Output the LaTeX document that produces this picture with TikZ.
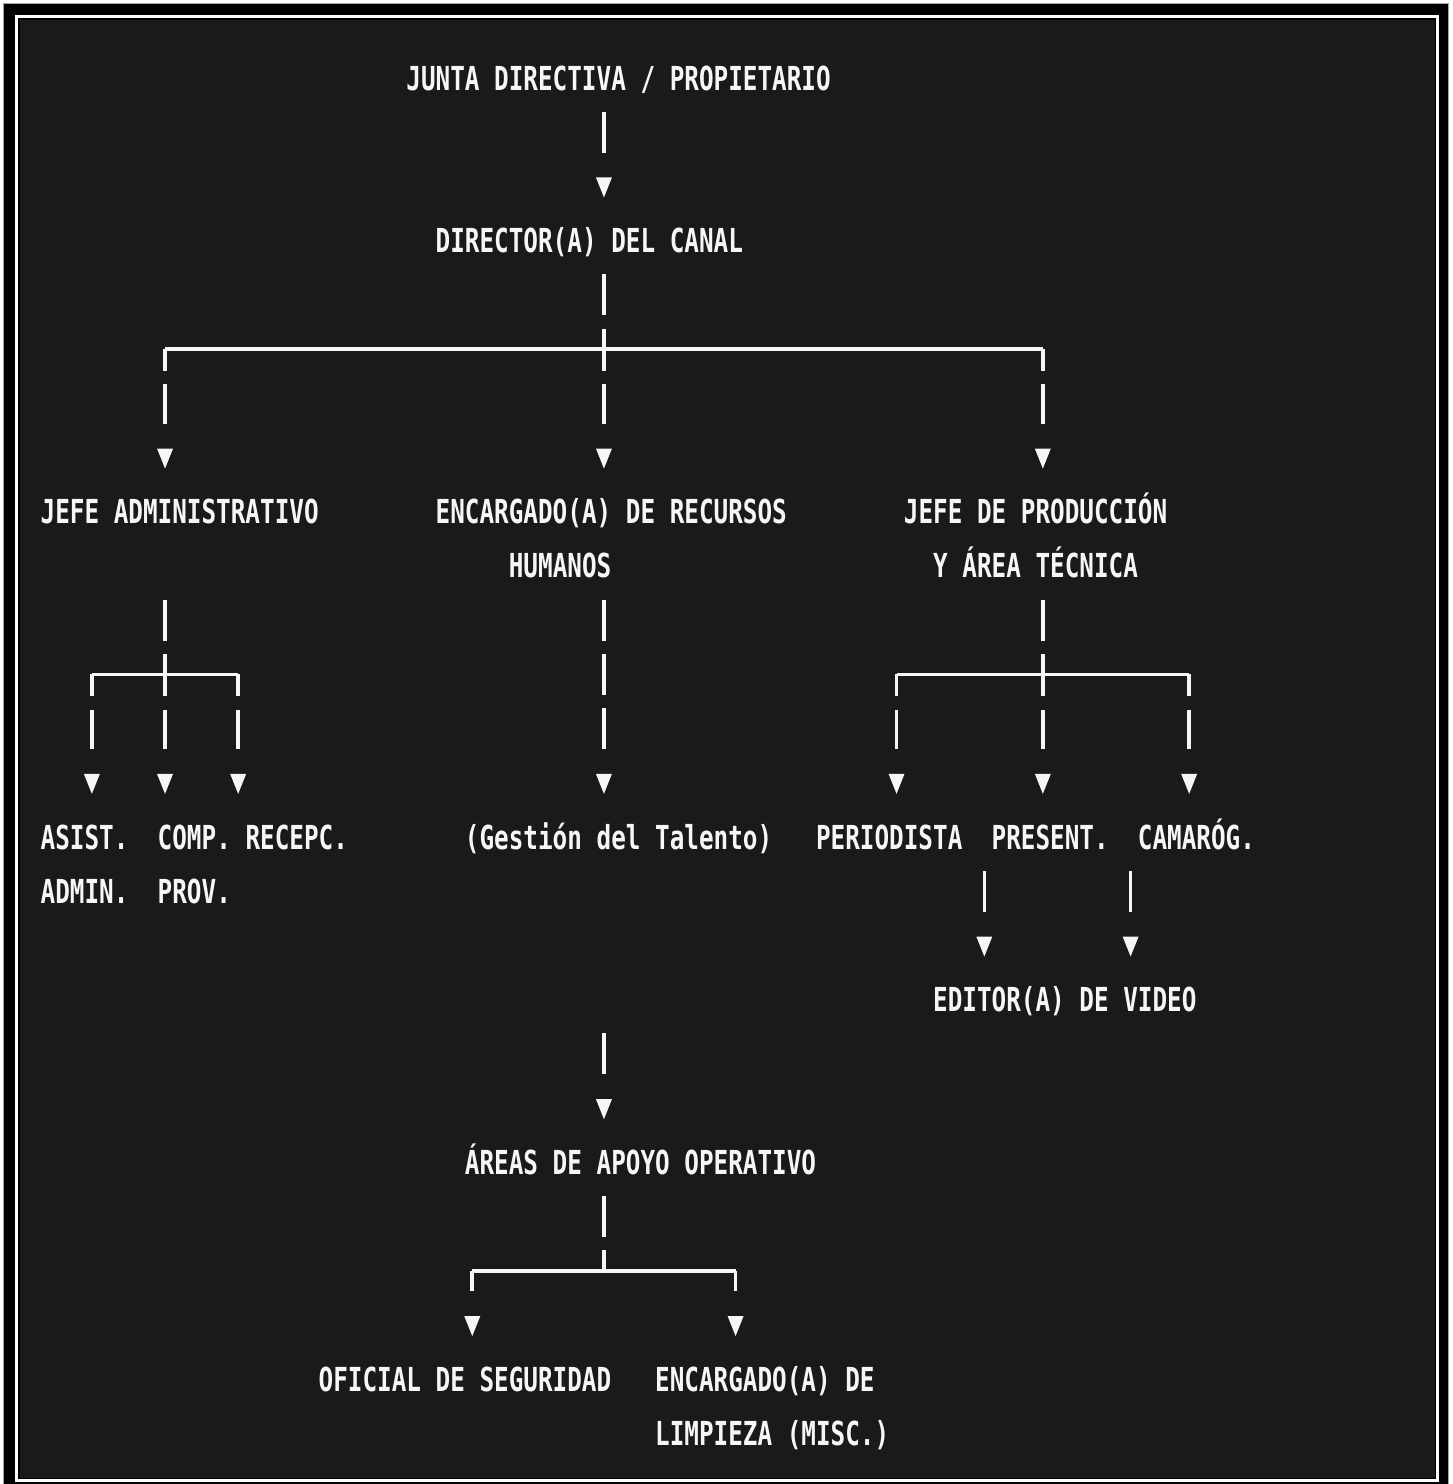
\documentclass[tikz,border=0pt]{standalone}
\usepackage{fontspec}
\usepackage{graphicx}
\usetikzlibrary{decorations.markings}
\newfontfamily\monofam{DejaVu Sans Mono}
\definecolor{bgc}{HTML}{1A1A1A}
\definecolor{fg}{HTML}{F6F6F6}
\newlength\cw
\setlength\cw{14.63pt}
% one text row of the ASCII chart: exact row box of 54.22pt
\newcommand\rowline[1]{\raisebox{0pt}[39.11pt][15.11pt]{\scalebox{1}[1.36]{#1}}}
\newcommand\tworows[2]{\vbox{\offinterlineskip\hbox{\rowline{#1}}\hbox{#2}}}
\newcommand\indentc[1]{\hspace*{#1\cw}}
\tikzset{
  txt/.style={anchor=north west, inner sep=0pt, outer sep=0pt, text=fg,
    font=\monofam\bfseries\fontsize{24.3pt}{54.22pt}\selectfont},
  wire/.style={draw=fg, line width=3.6pt},
  tipmark/.style={postaction={decorate, decoration={markings,
    mark=at position 1 with {\fill[fg, shorten >=0pt, shorten <=0pt]
      (-16.11pt,0pt) -- (-36.11pt,8pt) -- (-36.11pt,-8pt) -- cycle;}}}},
  conn/.style={wire, dash pattern=on 41pt off 13.22pt,
    shorten <=6.61pt, shorten >=60.83pt, tipmark},
  branch/.style={wire, dash pattern=on 41pt off 13.22pt, dash phase=19pt,
    shorten >=60.83pt, tipmark},
  trunk/.style={wire, dash pattern=on 41pt off 13.22pt, shorten <=6.61pt},
  hline/.style={wire, line cap=square}
}
\begin{document}
\begin{tikzpicture}[x=1pt, y=-1pt]
\useasboundingbox (0,0) rectangle (1452,1484);
% frame
\fill[white] (0,0) rectangle (1452,1484);
\fill[black] (4,4) rectangle (1449,1484);
\draw[gray!70, line width=1pt] (3.5,1484) -- (3.5,3.5) -- (1448.5,3.5) -- (1448.5,1484);
\draw[white, line width=2.5pt] (16.25,16.25) rectangle (1437.5,1480.25);
\fill[bgc] (19.5,19.5) rectangle (1434.5,1477.5);

% column and split coordinates
\foreach \c in {3,8,13,29,38,47,58,64,68,74,78}
  \coordinate (k\c) at ({48+14.63*\c},0);
\coordinate (s5)   at ({48+14.63*38},{78+54.22*5});
\coordinate (s11a) at ({48+14.63*8},{78+54.22*11});
\coordinate (s11b) at ({48+14.63*68},{78+54.22*11});
\coordinate (s22)  at ({48+14.63*38},{78+54.22*22});

% text nodes (column c, row r): (40.7+14.63c, 50.89+54.22r)
\node[txt] (junta)    at ({40.7+14.63*25},{50.89+54.22*0})  {\rowline{JUNTA DIRECTIVA / PROPIETARIO}};
\node[txt] (director) at ({40.7+14.63*27},{50.89+54.22*3})  {\rowline{DIRECTOR(A) DEL CANAL}};
\node[txt] (jadm)     at ({40.7+14.63*0},{50.89+54.22*8})   {\rowline{JEFE ADMINISTRATIVO}};
\node[txt] (rrhh)     at ({40.7+14.63*27},{50.89+54.22*8})  {\tworows{ENCARGADO(A) DE RECURSOS}{\indentc{5}\rowline{HUMANOS}}};
\node[txt] (jprod)    at ({40.7+14.63*59},{50.89+54.22*8})  {\tworows{JEFE DE PRODUCCIÓN}{\indentc{2}\rowline{Y ÁREA TÉCNICA}}};
\node[txt] (asist)    at ({40.7+14.63*0},{50.89+54.22*14})  {\tworows{ASIST.}{\rowline{ADMIN.}}};
\node[txt] (comp)     at ({40.7+14.63*8},{50.89+54.22*14})  {\tworows{COMP.}{\rowline{PROV.}}};
\node[txt] (recepc)   at ({40.7+14.63*14},{50.89+54.22*14}) {\rowline{RECEPC.}};
\node[txt] (talento)  at ({40.7+14.63*29},{50.89+54.22*14}) {\rowline{(Gestión del Talento)}};
\node[txt] (period)   at ({40.7+14.63*53},{50.89+54.22*14}) {\rowline{PERIODISTA}};
\node[txt] (present)  at ({40.7+14.63*65},{50.89+54.22*14}) {\rowline{PRESENT.}};
\node[txt] (camarog)  at ({40.7+14.63*75},{50.89+54.22*14}) {\rowline{CAMARÓG.}};
\node[txt] (editor)   at ({40.7+14.63*61},{50.89+54.22*17}) {\rowline{EDITOR(A) DE VIDEO}};
\node[txt] (apoyo)    at ({40.7+14.63*29},{50.89+54.22*20}) {\rowline{ÁREAS DE APOYO OPERATIVO}};
\node[txt] (oficial)  at ({40.7+14.63*19},{50.89+54.22*24}) {\rowline{OFICIAL DE SEGURIDAD}};
\node[txt] (limpieza) at ({40.7+14.63*42},{50.89+54.22*24}) {\tworows{ENCARGADO(A) DE}{\rowline{LIMPIEZA (MISC.)}}};

% connectors
\draw[conn]   (k38 |- junta.south) -- (k38 |- director.north);
\draw[trunk]  (k38 |- director.south) -- (s5);
\draw[hline]  (s5 -| k8) -- (s5 -| k68);
\draw[branch] (s5 -| k8) -- (k8 |- jadm.north);
\draw[branch] (s5) -- (k38 |- rrhh.north);
\draw[branch] (s5 -| k68) -- (k68 |- jprod.north);

\draw[trunk, shorten <=60.83pt] (k8 |- jadm.south) -- (s11a);
\draw[hline]  (s11a -| k3) -- (s11a -| k13);
\draw[branch] (s11a -| k3) -- (k3 |- asist.north);
\draw[branch] (s11a) -- (k8 |- comp.north);
\draw[branch] (s11a -| k13) -- (k13 |- recepc.north);

\draw[conn]   (k38 |- rrhh.south) -- (k38 |- talento.north);

\draw[trunk]  (k68 |- jprod.south) -- (s11b);
\draw[hline]  (s11b -| k58) -- (s11b -| k78);
\draw[branch] (s11b -| k58) -- (k58 |- period.north);
\draw[branch] (s11b) -- (k68 |- present.north);
\draw[branch] (s11b -| k78) -- (k78 |- camarog.north);

\draw[conn]   (k64 |- present.south) -- (k64 |- editor.north);
\draw[conn]   (k74 |- camarog.south) -- (k74 |- editor.north);

\draw[conn, shorten <=169.27pt] (k38 |- talento.south) -- (k38 |- apoyo.north);
\draw[trunk]  (k38 |- apoyo.south) -- (s22);
\draw[hline]  (s22 -| k29) -- (s22 -| k47);
\draw[branch] (s22 -| k29) -- (k29 |- oficial.north);
\draw[branch] (s22 -| k47) -- (k47 |- limpieza.north);
\end{tikzpicture}
\end{document}
